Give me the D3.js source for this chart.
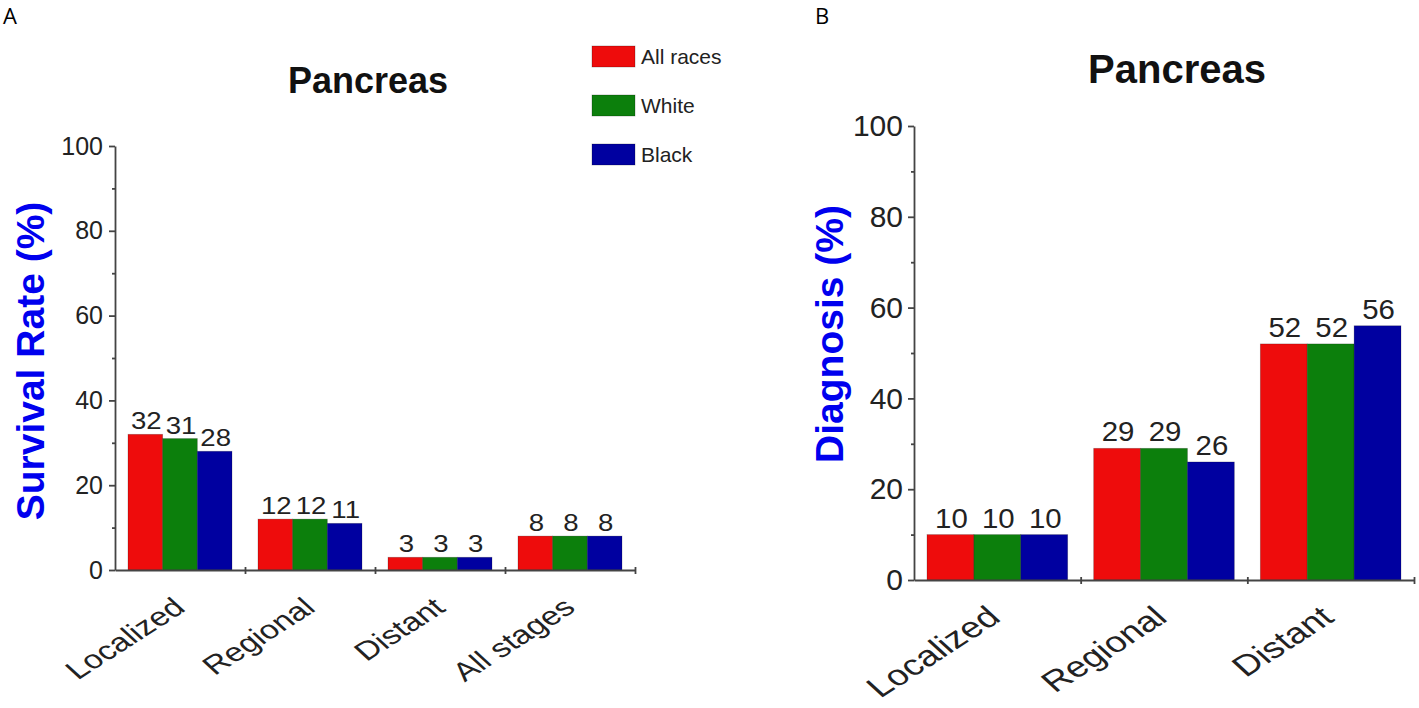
<!DOCTYPE html>
<html>
<head>
<meta charset="utf-8">
<script src="https://cdn.jsdelivr.net/npm/d3@7"></script>
<style>
  body { margin: 0; background: #fff; }
  svg { display: block; font-family: "Liberation Sans", Arial, sans-serif; }
</style>
</head>
<body>
<svg id="chart" width="1419" height="708"></svg>
<script>
// 数据
const races = ["All races", "White", "Black"];
const colors = ["#ee0c0c", "#0c7f0c", "#0000a0"];

const stagesA = ["Localized", "Regional", "Distant", "All stages"];
const survivalAll = [32, 12, 3, 8];
const survivalWhite = [31, 12, 3, 8];
const survivalBlack = [28, 11, 3, 8];

const stagesB = ["Localized", "Regional", "Distant"];
const diagnosisAll = [10, 29, 52];
const diagnosisWhite = [10, 29, 52];
const diagnosisBlack = [10, 26, 56];

const yTicks = [0, 20, 40, 60, 80, 100];
const yMinorTicks = [10, 30, 50, 70, 90];

const svg = d3.select("#chart");

// 面板字母
svg.append("text").attr("x", 3).attr("y", 24)
   .style("font-family", "'Open Sans', sans-serif").style("font-size", "22px").text("A");
svg.append("text").attr("x", 815).attr("y", 24)
   .style("font-family", "'Open Sans', sans-serif").style("font-size", "22px").text("B");

// 绘制单个面板
function drawPanel(cfg, stages, series) {
    const g = svg.append("g");

    const x = d3.scaleBand().domain(stages).range([cfg.x0, cfg.x1]);
    const xs = d3.scaleBand().domain(races).range([cfg.pad, x.bandwidth() - cfg.pad]);
    const y = d3.scaleLinear().domain([0, 100]).range([cfg.y0, cfg.y100]);

    // 柱子
    series.forEach((vals, si) => {
        g.selectAll(null).data(stages).enter().append("rect")
         .attr("x", d => x(d) + xs(races[si]))
         .attr("y", (d, i) => y(vals[i]))
         .attr("width", xs.bandwidth())
         .attr("height", (d, i) => y(0) - y(vals[i]))
         .attr("fill", colors[si])
         .attr("stroke", "rgba(0,0,0,0.25)")
         .attr("stroke-width", 0.8);

        // 数值标签
        g.selectAll(null).data(stages).enter().append("text")
         .attr("transform", (d, i) => `translate(${x(d) + xs(races[si]) + xs.bandwidth() / 2 + 1},${y(vals[i]) - cfg.labelGap}) scale(${cfg.labelStretch},1)`)
         .attr("text-anchor", "middle")
         .style("font-size", cfg.labelSize + "px")
         .style("fill", "#222")
         .text((d, i) => vals[i]);
    });

    // Y 轴
    const yAxis = g.append("g")
        .attr("transform", `translate(${cfg.x0},0)`)
        .call(d3.axisLeft(y).tickValues(yTicks).tickSize(6).tickSizeOuter(0).tickPadding(cfg.tickPad));
    yAxis.selectAll("text").style("font-size", cfg.tickSize + "px").style("fill", "#222")
         .style("font-family", "'Liberation Sans', Arial, sans-serif");
    g.append("g")
        .attr("transform", `translate(${cfg.x0},0)`)
        .call(d3.axisLeft(y).tickValues(yMinorTicks).tickSize(3).tickFormat(""))
        .select(".domain").remove();

    // X 轴
    const xl = d3.scaleLinear().domain([0, stages.length]).range([cfg.x0, cfg.x1]);
    const xAxis = g.append("g")
        .attr("transform", `translate(0,${cfg.y0})`)
        .call(d3.axisBottom(xl).tickValues(d3.range(1, stages.length + 1)).tickSize(4).tickSizeOuter(0).tickFormat(""));
    xAxis.selectAll(".tick line").attr("y1", -3);

    g.selectAll(".domain, .tick line").attr("stroke", "#444").attr("stroke-width", 1.8);

    // X 轴类别标签（倾斜）
    g.selectAll(null).data(stages).enter().append("text")
     .attr("transform", d => `translate(${x(d) + x.bandwidth() / 2 + cfg.catDx},${cfg.y0 + cfg.catDy}) scale(1.3,1) rotate(-40)`)
     .attr("text-anchor", "end")
     .style("font-size", cfg.catSize + "px")
     .style("fill", "#222")
     .text(d => d);

    // 标题
    g.append("text")
     .attr("x", cfg.titleX).attr("y", cfg.titleY)
     .attr("text-anchor", "middle")
     .style("font-size", cfg.titleSize + "px")
     .style("font-weight", "bold")
     .style("fill", "#111")
     .text("Pancreas");

    // Y 轴标题
    g.append("text")
     .attr("transform", `translate(${cfg.ylabX},${cfg.ylabY}) rotate(-90)`)
     .attr("text-anchor", "middle")
     .style("font-size", "39px")
     .style("font-weight", "bold")
     .style("fill", "#0000ee")
     .text(cfg.ylabel);
}

drawPanel({
    x0: 115, x1: 635, y0: 570, y100: 146, pad: 13,
    labelGap: 5, labelSize: 24, labelStretch: 1.15,
    tickSize: 25, tickPad: 6,
    catDx: 7, catDy: 40, catSize: 26,
    titleX: 368, titleY: 93, titleSize: 36,
    ylabX: 44, ylabY: 361, ylabel: "Survival Rate (%)"
}, stagesA, [survivalAll, survivalWhite, survivalBlack]);

drawPanel({
    x0: 914, x1: 1414, y0: 580, y100: 126, pad: 13,
    labelGap: 7, labelSize: 28, labelStretch: 1.05,
    tickSize: 30, tickPad: 5,
    catDx: 5, catDy: 40, catSize: 29,
    titleX: 1177, titleY: 83, titleSize: 40,
    ylabX: 843, ylabY: 334, ylabel: "Diagnosis (%)"
}, stagesB, [diagnosisAll, diagnosisWhite, diagnosisBlack]);

// 图例
const legend = svg.append("g").attr("transform", "translate(592,46)");
races.forEach((r, i) => {
    legend.append("rect")
          .attr("x", 0).attr("y", i * 49)
          .attr("width", 43).attr("height", 21)
          .attr("fill", colors[i])
          .attr("stroke", "rgba(0,0,0,0.3)").attr("stroke-width", 0.8);
    legend.append("text")
          .attr("x", 49).attr("y", i * 49 + 18)
          .style("font-size", "21px")
          .style("fill", "#222")
          .text(r);
});
</script>
</body>
</html>
